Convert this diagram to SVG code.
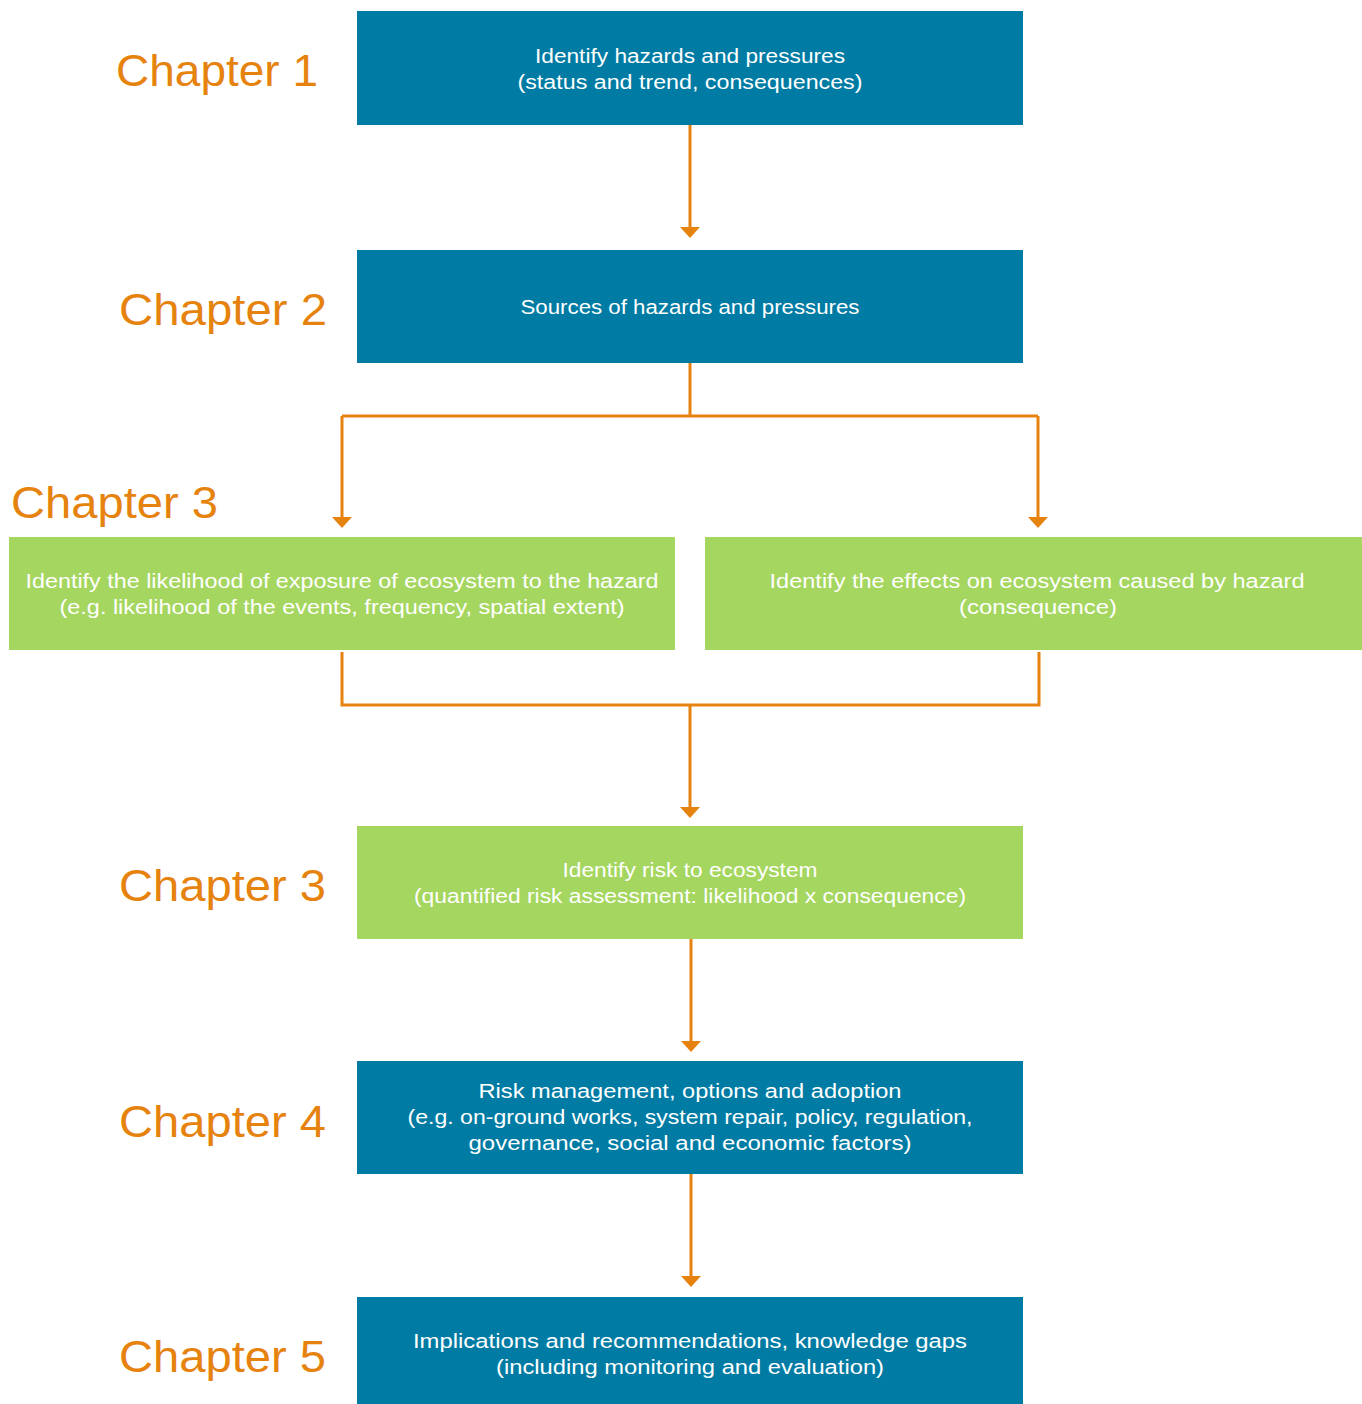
<svg xmlns="http://www.w3.org/2000/svg" width="1362" height="1404" viewBox="0 0 1362 1404">
<style>
.blue{fill:#007BA4}
.green{fill:#A5D65F}
.lbl{font-family:"Liberation Sans",Arial,sans-serif;font-size:44px;fill:#E6820E}
.t{font-family:"Liberation Sans",Arial,sans-serif;font-size:20px;fill:#FFFFFF;text-anchor:middle}
.c{fill:none;stroke:#E6820E;stroke-width:3}
</style>
<defs>
<marker id="ah" markerWidth="20" markerHeight="12" refX="10" refY="11" orient="auto-start-reverse" markerUnits="userSpaceOnUse" viewBox="0 0 20 12">
<path d="M0,0 L20,0 L10,12 Z" fill="#E6820E" transform="rotate(0)"/>
</marker>
</defs>
<rect width="1362" height="1404" fill="#FFFFFF"/>
<g id="labels">
<text class="lbl" x="116" y="86" textLength="202" lengthAdjust="spacingAndGlyphs">Chapter 1</text>
<text class="lbl" x="119" y="325" textLength="208" lengthAdjust="spacingAndGlyphs">Chapter 2</text>
<text class="lbl" x="11" y="518" textLength="207" lengthAdjust="spacingAndGlyphs">Chapter 3</text>
<text class="lbl" x="119" y="901" textLength="207" lengthAdjust="spacingAndGlyphs">Chapter 3</text>
<text class="lbl" x="119" y="1137" textLength="207" lengthAdjust="spacingAndGlyphs">Chapter 4</text>
<text class="lbl" x="119" y="1372" textLength="207" lengthAdjust="spacingAndGlyphs">Chapter 5</text>
</g>
<g id="connectors">
<path class="c" d="M690,125 V228"/>
<path d="M680,227 L700,227 L690,238 Z" fill="#E6820E"/>
<path class="c" d="M690,363 V416 M342,416 H1038 M342,416 V518 M1038,416 V518"/>
<path d="M332,517 L352,517 L342,528 Z" fill="#E6820E"/>
<path d="M1028,517 L1048,517 L1038,528 Z" fill="#E6820E"/>
<path class="c" d="M342,652 V705 H1039 V652 M690,705 V808"/>
<path d="M680,807 L700,807 L690,818 Z" fill="#E6820E"/>
<path class="c" d="M691,939 V1042"/>
<path d="M681,1041 L701,1041 L691,1052 Z" fill="#E6820E"/>
<path class="c" d="M691,1174 V1277"/>
<path d="M681,1276 L701,1276 L691,1287 Z" fill="#E6820E"/>
</g>
<g id="n1">
<rect class="blue" x="357" y="11" width="666" height="114"/>
<text class="t" x="690" y="63" textLength="310" lengthAdjust="spacingAndGlyphs">Identify hazards and pressures</text>
<text class="t" x="690" y="89" textLength="345" lengthAdjust="spacingAndGlyphs">(status and trend, consequences)</text>
</g>
<g id="n2">
<rect class="blue" x="357" y="250" width="666" height="113"/>
<text class="t" x="690" y="314" textLength="339" lengthAdjust="spacingAndGlyphs">Sources of hazards and pressures</text>
</g>
<g id="n3a">
<rect class="green" x="9" y="537" width="666" height="113"/>
<text class="t" x="342" y="588" textLength="633" lengthAdjust="spacingAndGlyphs">Identify the likelihood of exposure of ecosystem to the hazard</text>
<text class="t" x="342" y="614" textLength="565" lengthAdjust="spacingAndGlyphs">(e.g. likelihood of the events, frequency, spatial extent)</text>
</g>
<g id="n3b">
<rect class="green" x="705" y="537" width="657" height="113"/>
<text class="t" x="1037" y="588" textLength="535" lengthAdjust="spacingAndGlyphs">Identify the effects on ecosystem caused by hazard</text>
<text class="t" x="1038" y="614" textLength="158" lengthAdjust="spacingAndGlyphs">(consequence)</text>
</g>
<g id="n3c">
<rect class="green" x="357" y="826" width="666" height="113"/>
<text class="t" x="690" y="877" textLength="255" lengthAdjust="spacingAndGlyphs">Identify risk to ecosystem</text>
<text class="t" x="690" y="903" textLength="552" lengthAdjust="spacingAndGlyphs">(quantified risk assessment: likelihood x consequence)</text>
</g>
<g id="n4">
<rect class="blue" x="357" y="1061" width="666" height="113"/>
<text class="t" x="690" y="1098" textLength="423" lengthAdjust="spacingAndGlyphs">Risk management, options and adoption</text>
<text class="t" x="690" y="1124" textLength="565" lengthAdjust="spacingAndGlyphs">(e.g. on-ground works, system repair, policy, regulation,</text>
<text class="t" x="690" y="1150" textLength="443" lengthAdjust="spacingAndGlyphs">governance, social and economic factors)</text>
</g>
<g id="n5">
<rect class="blue" x="357" y="1297" width="666" height="107"/>
<text class="t" x="690" y="1348" textLength="554" lengthAdjust="spacingAndGlyphs">Implications and recommendations, knowledge gaps</text>
<text class="t" x="690" y="1374" textLength="388" lengthAdjust="spacingAndGlyphs">(including monitoring and evaluation)</text>
</g>
</svg>
